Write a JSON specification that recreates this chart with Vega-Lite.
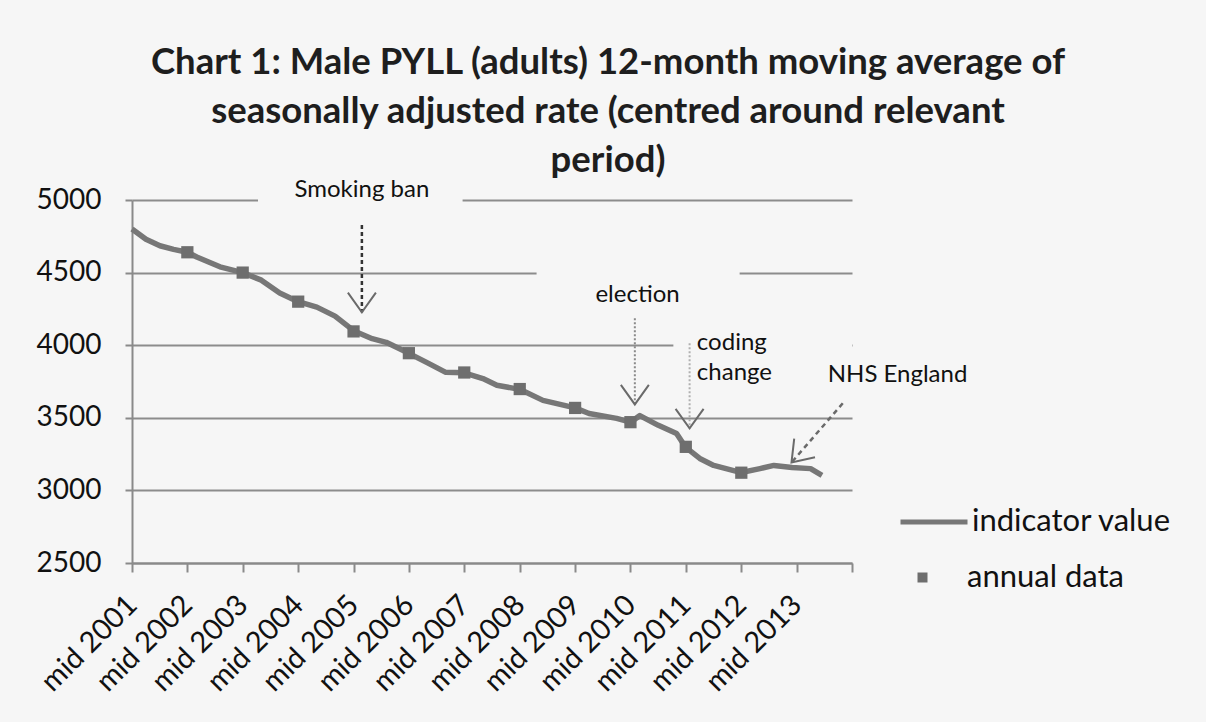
{
  "$schema": "https://vega.github.io/schema/vega-lite/v6.json",
  "width": 720,
  "height": 363,
  "autosize": {"type": "none"},
  "padding": {"left": 132, "top": 200, "right": 354, "bottom": 159},
  "background": "#f6f6f6",
  "title": {
    "text": ["Chart 1: Male PYLL (adults) 12-month moving average of", "seasonally adjusted rate (centred around relevant", "period)"],
    "font": "Lato",
    "fontSize": 36.5,
    "fontWeight": "bold",
    "color": "#1e1e1e",
    "anchor": "middle",
    "dx": 116,
    "lineHeight": 49,
    "offset": -2
  },
  "config": {
    "view": {"stroke": null},
    "font": "Lato"
  },
  "datasets": {
    "monthly": [
      {"date": "2001-07-01", "value": 4800},
      {"date": "2001-10-01", "value": 4730},
      {"date": "2002-01-01", "value": 4685},
      {"date": "2002-04-01", "value": 4660},
      {"date": "2002-07-01", "value": 4640},
      {"date": "2002-09-01", "value": 4607},
      {"date": "2003-02-01", "value": 4540},
      {"date": "2003-07-01", "value": 4500},
      {"date": "2003-11-01", "value": 4448},
      {"date": "2004-03-01", "value": 4360},
      {"date": "2004-07-01", "value": 4300},
      {"date": "2004-11-01", "value": 4262},
      {"date": "2005-03-01", "value": 4200},
      {"date": "2005-07-01", "value": 4100},
      {"date": "2005-11-01", "value": 4045},
      {"date": "2006-02-01", "value": 4020},
      {"date": "2006-07-01", "value": 3944},
      {"date": "2006-11-01", "value": 3878},
      {"date": "2007-03-01", "value": 3813},
      {"date": "2007-07-01", "value": 3810},
      {"date": "2007-11-01", "value": 3770},
      {"date": "2008-02-01", "value": 3724},
      {"date": "2008-07-01", "value": 3696},
      {"date": "2008-12-01", "value": 3620},
      {"date": "2009-07-01", "value": 3568},
      {"date": "2009-10-01", "value": 3530},
      {"date": "2010-04-01", "value": 3496},
      {"date": "2010-07-01", "value": 3470},
      {"date": "2010-09-01", "value": 3515},
      {"date": "2011-01-01", "value": 3448},
      {"date": "2011-05-01", "value": 3392},
      {"date": "2011-07-01", "value": 3296},
      {"date": "2011-10-01", "value": 3220},
      {"date": "2012-01-01", "value": 3172},
      {"date": "2012-07-01", "value": 3123},
      {"date": "2012-11-01", "value": 3150},
      {"date": "2013-02-01", "value": 3172},
      {"date": "2013-06-01", "value": 3158},
      {"date": "2013-10-01", "value": 3150},
      {"date": "2013-12-15", "value": 3103}
    ],
    "annual": [
      {"date": "2002-07-01", "value": 4640},
      {"date": "2003-07-01", "value": 4500},
      {"date": "2004-07-01", "value": 4300},
      {"date": "2005-07-01", "value": 4095},
      {"date": "2006-07-01", "value": 3945},
      {"date": "2007-07-01", "value": 3812},
      {"date": "2008-07-01", "value": 3698},
      {"date": "2009-07-01", "value": 3568},
      {"date": "2010-07-01", "value": 3470},
      {"date": "2011-07-01", "value": 3300},
      {"date": "2012-07-01", "value": 3122}
    ],
    "boxes": [
      {"note": "Smoking ban", "d1": "2003-10-10", "d2": "2007-06-20", "v1": 5120, "v2": 4880},
      {"note": "election", "d1": "2008-10-20", "d2": "2012-06-20", "v1": 4700, "v2": 4150},
      {"note": "coding change", "d1": "2011-04-10", "d2": "2014-07-01", "v1": 4300, "v2": 3700}
    ],
    "arrows": [
      {"note": "Smoking ban", "d1": "2005-08-25", "v1": 4828, "d2": "2005-08-25", "v2": 4227},
      {"note": "election", "d1": "2010-07-30", "v1": 4186, "d2": "2010-07-30", "v2": 3592},
      {"note": "coding change", "d1": "2011-07-26", "v1": 4013, "d2": "2011-07-26", "v2": 3427},
      {"note": "NHS England", "d1": "2014-05-01", "v1": 3600, "d2": "2013-05-28", "v2": 3192}
    ],
    "labels": [
      {"note": "Smoking ban", "date": "2005-08-25", "value": 5069, "text": ["Smoking ban"]},
      {"note": "election", "date": "2010-08-17", "value": 4345, "text": ["election"]},
      {"note": "coding change", "date": "2011-09-12", "value": 4014, "text": ["coding", "change"]},
      {"note": "NHS England", "date": "2014-01-22", "value": 3793, "text": ["NHS England"]}
    ]
  },
  "layer": [
    {
      "data": {"name": "boxes"},
      "mark": {"type": "rect", "fill": "#f6f6f6", "stroke": null},
      "encoding": {
        "x": {"field": "d1", "type": "temporal"},
        "x2": {"field": "d2"},
        "y": {"field": "v1", "type": "quantitative"},
        "y2": {"field": "v2"}
      }
    },
    {
      "data": {"name": "monthly"},
      "mark": {"type": "line", "strokeWidth": 5.5, "strokeJoin": "round"},
      "encoding": {
        "x": {
          "field": "date",
          "type": "temporal",
          "title": null,
          "scale": {"type": "utc", "domain": [{"year": 2001, "month": 7, "date": 1, "utc": true}, {"year": 2014, "month": 7, "date": 1, "utc": true}], "nice": false},
          "axis": {
            "values": [
              {"year": 2001, "month": 7, "date": 1, "utc": true},
              {"year": 2002, "month": 7, "date": 1, "utc": true},
              {"year": 2003, "month": 7, "date": 1, "utc": true},
              {"year": 2004, "month": 7, "date": 1, "utc": true},
              {"year": 2005, "month": 7, "date": 1, "utc": true},
              {"year": 2006, "month": 7, "date": 1, "utc": true},
              {"year": 2007, "month": 7, "date": 1, "utc": true},
              {"year": 2008, "month": 7, "date": 1, "utc": true},
              {"year": 2009, "month": 7, "date": 1, "utc": true},
              {"year": 2010, "month": 7, "date": 1, "utc": true},
              {"year": 2011, "month": 7, "date": 1, "utc": true},
              {"year": 2012, "month": 7, "date": 1, "utc": true},
              {"year": 2013, "month": 7, "date": 1, "utc": true},
              {"year": 2014, "month": 7, "date": 1, "utc": true}
            ],
            "labelExpr": "utcyear(datum.value) > 2013 ? '' : 'mid ' + utcFormat(datum.value, '%Y')",
            "labelAngle": -45,
            "labelAlign": "right",
            "labelBaseline": "middle",
            "labelFont": "Lato",
            "labelFontSize": 29,
            "labelColor": "#111111",
            "labelPadding": 28,
            "labelOverlap": false,
            "labelFlush": false,
            "grid": false,
            "domainColor": "#8a8a8a",
            "domainWidth": 2,
            "tickColor": "#8a8a8a",
            "tickWidth": 2,
            "tickSize": 9
          }
        },
        "y": {
          "field": "value",
          "type": "quantitative",
          "title": null,
          "scale": {"domain": [2500, 5000], "nice": false, "zero": false},
          "axis": {
            "values": [2500, 3000, 3500, 4000, 4500, 5000],
            "format": "d",
            "labelFont": "Lato",
            "labelFontSize": 28,
            "labelColor": "#111111",
            "labelPadding": 24,
            "grid": true,
            "gridColor": "#8c8c8c",
            "gridWidth": 2,
            "domainColor": "#8a8a8a",
            "domainWidth": 2,
            "tickColor": "#8a8a8a",
            "tickWidth": 2,
            "tickSize": 7
          }
        },
        "color": {
          "datum": "indicator value",
          "type": "nominal",
          "scale": {"range": ["#777777"]},
          "legend": {
            "title": null,
            "orient": "none",
            "legendX": 766,
            "legendY": 286,
            "symbolType": "stroke",
            "symbolSize": 4489,
            "symbolStrokeWidth": 5,
            "symbolStrokeColor": "#777777",
            "labelFont": "Lato",
            "labelFontSize": 31,
            "labelColor": "#111111",
            "labelOffset": 2,
            "labelLimit": 0,
            "padding": 0
          }
        }
      }
    },
    {
      "data": {"name": "annual"},
      "mark": {"type": "point", "filled": true, "size": 150, "color": "#6e6e6e", "opacity": 1},
      "encoding": {
        "x": {"field": "date", "type": "temporal"},
        "y": {"field": "value", "type": "quantitative"},
        "shape": {
          "datum": "annual data",
          "type": "nominal",
          "scale": {"range": ["square"]},
          "legend": {
            "title": null,
            "orient": "none",
            "legendX": 775,
            "legendY": 362,
            "symbolSize": 100,
            "symbolFillColor": "#6e6e6e",
            "symbolStrokeColor": "#6e6e6e",
            "symbolOpacity": 1,
            "labelFont": "Lato",
            "labelFontSize": 31,
            "labelColor": "#111111",
            "labelOffset": 29,
            "labelLimit": 0,
            "padding": 0
          }
        }
      }
    },
    {
      "data": {"name": "arrows"},
      "transform": [{"filter": "datum.note === 'Smoking ban'"}],
      "mark": {"type": "rule", "color": "#333333", "strokeWidth": 2.5, "strokeDash": [4, 3]},
      "encoding": {
        "x": {"field": "d1", "type": "temporal"},
        "y": {"field": "v1", "type": "quantitative"},
        "x2": {"field": "d2"},
        "y2": {"field": "v2"}
      }
    },
    {
      "data": {"name": "arrows"},
      "transform": [{"filter": "datum.note === 'election'"}],
      "mark": {"type": "rule", "color": "#8a8a8a", "strokeWidth": 2, "strokeDash": [2, 2]},
      "encoding": {
        "x": {"field": "d1", "type": "temporal"},
        "y": {"field": "v1", "type": "quantitative"},
        "x2": {"field": "d2"},
        "y2": {"field": "v2"}
      }
    },
    {
      "data": {"name": "arrows"},
      "transform": [{"filter": "datum.note === 'coding change'"}],
      "mark": {"type": "rule", "color": "#b0b0b0", "strokeWidth": 2, "strokeDash": [2, 2]},
      "encoding": {
        "x": {"field": "d1", "type": "temporal"},
        "y": {"field": "v1", "type": "quantitative"},
        "x2": {"field": "d2"},
        "y2": {"field": "v2"}
      }
    },
    {
      "data": {"name": "arrows"},
      "transform": [{"filter": "datum.note === 'NHS England'"}],
      "mark": {"type": "rule", "color": "#6a6a6a", "strokeWidth": 2.5, "strokeDash": [5, 4]},
      "encoding": {
        "x": {"field": "d1", "type": "temporal"},
        "y": {"field": "v1", "type": "quantitative"},
        "x2": {"field": "d2"},
        "y2": {"field": "v2"}
      }
    },
    {
      "data": {"name": "arrows"},
      "transform": [{"filter": "datum.note !== 'NHS England'"}],
      "mark": {"type": "point", "shape": "M-1,-1.4L0,0L1,-1.4", "size": 784, "filled": false, "stroke": "#6a6a6a", "strokeWidth": 2, "opacity": 1},
      "encoding": {
        "x": {"field": "d2", "type": "temporal"},
        "y": {"field": "v2", "type": "quantitative"}
      }
    },
    {
      "data": {"name": "arrows"},
      "transform": [{"filter": "datum.note === 'NHS England'"}],
      "mark": {"type": "point", "shape": "M-1,-1.4L0,0L1,-1.4", "size": 784, "filled": false, "stroke": "#6a6a6a", "strokeWidth": 2, "angle": 42, "opacity": 1},
      "encoding": {
        "x": {"field": "d2", "type": "temporal"},
        "y": {"field": "v2", "type": "quantitative"}
      }
    },
    {
      "data": {"name": "labels"},
      "transform": [{"filter": "datum.note === 'Smoking ban' || datum.note === 'election'"}],
      "mark": {"type": "text", "font": "Lato", "fontSize": 24, "color": "#111111", "align": "center", "baseline": "middle"},
      "encoding": {
        "x": {"field": "date", "type": "temporal"},
        "y": {"field": "value", "type": "quantitative"},
        "text": {"field": "text"}
      }
    },
    {
      "data": {"name": "labels"},
      "transform": [{"filter": "datum.note === 'coding change' || datum.note === 'NHS England'"}],
      "mark": {"type": "text", "font": "Lato", "fontSize": 24, "color": "#111111", "align": "left", "baseline": "middle", "lineHeight": 30},
      "encoding": {
        "x": {"field": "date", "type": "temporal"},
        "y": {"field": "value", "type": "quantitative"},
        "text": {"field": "text"}
      }
    }
  ]
}
